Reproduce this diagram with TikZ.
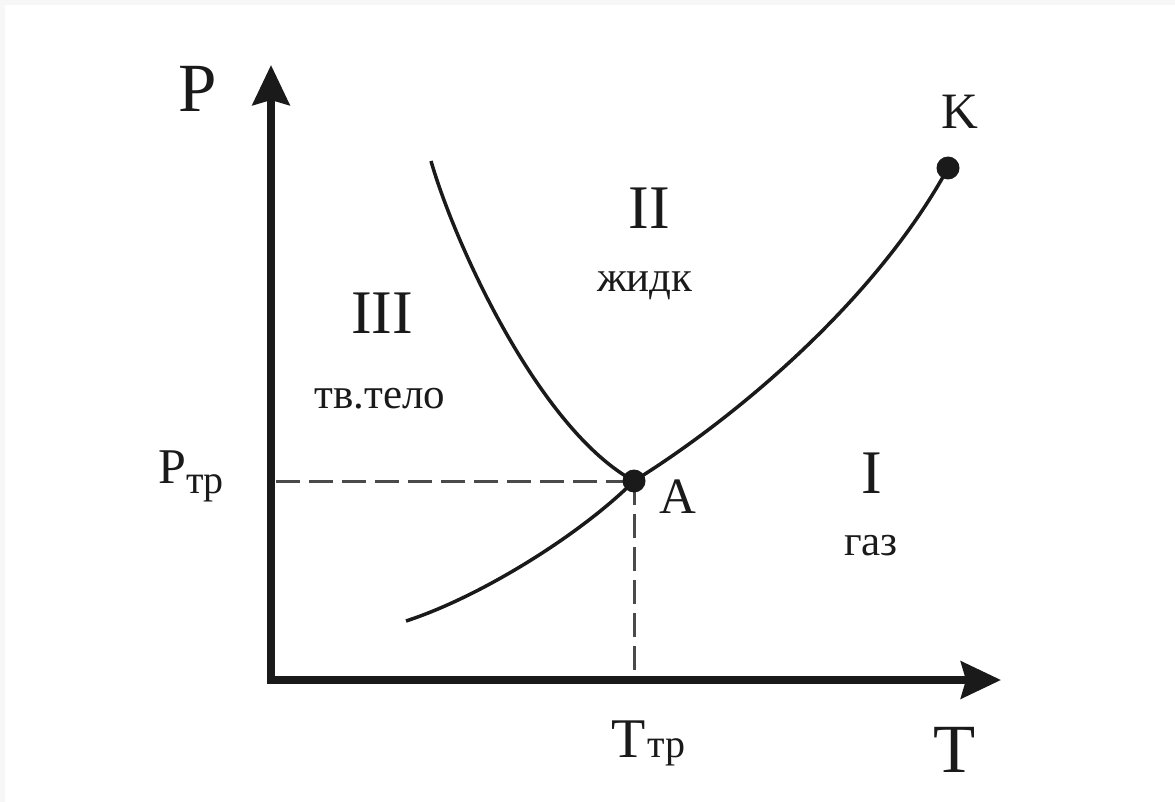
\documentclass[tikz,border=0pt]{standalone}
\usepackage{fontspec}
\setmainfont{Liberation Serif}
\usetikzlibrary{arrows.meta}
\definecolor{framegray}{HTML}{F7F7F7}
\definecolor{dashgray}{HTML}{4A4A4A}
\definecolor{inkblack}{HTML}{1A1A1A}
\tikzset{
  axisline/.style={line width=7.5pt, draw=inkblack, arrows={Stealth[length=40pt,width=37pt,inset=5pt]-Stealth[length=40pt,width=37pt,inset=5pt]}},
  phasecurve/.style={line width=3.5pt, draw=inkblack},
  guideline/.style={line width=3pt, draw=dashgray, dash pattern=on 24pt off 9pt},
  dotnode/.style={circle, fill=inkblack, minimum size=23pt, inner sep=0pt},
  lbl/.style={inner sep=0pt, anchor=base, text=inkblack},
  bigletter/.style={lbl, font=\fontsize{69}{69}\selectfont},
  roman/.style={lbl, font=\fontsize{62}{62}\selectfont},
  phase/.style={lbl, font=\fontsize{43}{43}\selectfont},
  midletter/.style={lbl, font=\fontsize{51}{51}\selectfont}
}
\begin{document}
\begin{tikzpicture}[x=1pt,y=-1pt]
\useasboundingbox (0,0) rectangle (1175,802);
\fill[framegray] (0,0) rectangle (1175,5);
\fill[framegray] (0,0) rectangle (5,802);

% points
\coordinate (ytip) at (271,65);
\coordinate (origin) at (271,680);
\coordinate (xtip) at (1001,680);
\coordinate (m0) at (431,161);
\coordinate (s0) at (406,621);
\coordinate (hd) at (276,481);
\coordinate (vd) at (634,676);

% dashed guides
\draw[guideline] (hd) -- (634,481);
\draw[guideline] (634,481) -- (vd);

% axes
\draw[axisline] (ytip) -- (origin) -- (xtip);

% phase curves
\draw[phasecurve] (m0) .. controls (455,245) and (540,430) .. (634,481);
\draw[phasecurve] (s0) .. controls (480,597) and (580,535) .. (634,481);
\draw[phasecurve] (634,481) .. controls (740,415) and (877,298) .. (948,168);

% dots
\node[dotnode] (A) at (634,481) {};
\node[dotnode] (K) at (948,168) {};

% labels
\node[bigletter] (Plbl) at (198,112) {P};
\node[bigletter] (Tlbl) at (955,772) {T};
\node[midletter] (Klbl) at (960,129) {K};
\node[midletter] (Albl) at (678,513) {A};
\node[roman] (II) at (649,229) {II};
\node[roman] (III) at (382,333) {III};
\node[roman] (I) at (872,493) {I};
\node[phase] (liq) at (645,292) {жидк};
\node[phase] (sol) at (380,408) {тв.тело};
\node[phase] (gas) at (871,555) {газ};
\node[lbl, anchor=base west] (Ptr) at (158,483) {\fontsize{50}{50}\selectfont P\raisebox{-10pt}{\fontsize{40}{40}\selectfont тр}};
\node[lbl, anchor=base west] (Ttr) at (611,757) {\fontsize{56}{56}\selectfont T\kern2pt{\fontsize{40}{40}\selectfont тр}};
\end{tikzpicture}
\end{document}
